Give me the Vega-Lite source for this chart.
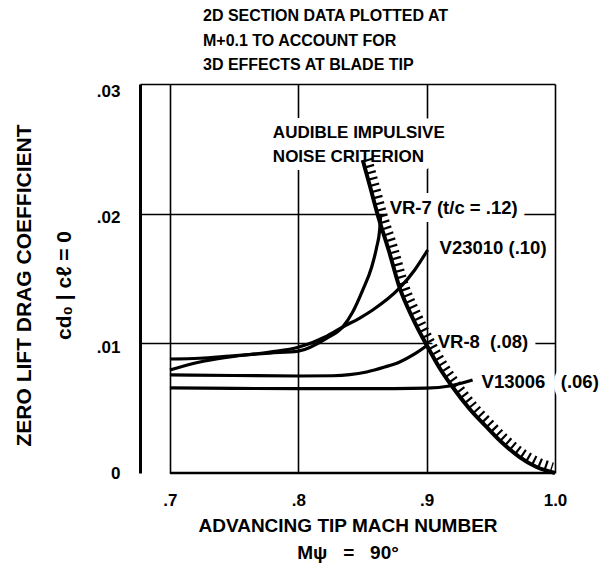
{
  "$schema": "https://vega.github.io/schema/vega-lite/v6.json",
  "width": 415,
  "height": 389,
  "autosize": {"type": "none"},
  "padding": {"left": 140, "top": 84, "right": 55, "bottom": 112},
  "background": "white",
  "config": {
    "view": {"stroke": null},
    "font": "Liberation Sans",
    "axis": {
      "labelFont": "Liberation Sans",
      "labelFontWeight": "bold",
      "labelColor": "black",
      "titleFont": "Liberation Sans",
      "titleFontWeight": "bold",
      "titleColor": "black",
      "ticks": false,
      "gridColor": "black",
      "gridWidth": 1.6,
      "domainColor": "black",
      "zindex": 0
    }
  },
  "title": {
    "text": ["2D SECTION DATA PLOTTED AT", "M+0.1 TO ACCOUNT FOR", "3D EFFECTS AT BLADE TIP"],
    "anchor": "start",
    "frame": "group",
    "font": "Liberation Sans",
    "fontSize": 16,
    "fontWeight": "bold",
    "color": "black",
    "lineHeight": 24.5,
    "baseline": "top",
    "dx": 63,
    "offset": 9
  },
  "datasets": {
    "frame": [
      {"M": 0.7, "cd": 0},
      {"M": 1.0, "cd": 0}
    ],
    "curves": [
      {"series": "VR-7", "M": 0.7, "cd": 0.00879},
      {"series": "VR-7", "M": 0.7233, "cd": 0.00885},
      {"series": "VR-7", "M": 0.7467, "cd": 0.00902},
      {"series": "VR-7", "M": 0.7778, "cd": 0.00925},
      {"series": "VR-7", "M": 0.8, "cd": 0.0094},
      {"series": "VR-7", "M": 0.8222, "cd": 0.0104},
      {"series": "VR-7", "M": 0.8346, "cd": 0.01126},
      {"series": "VR-7", "M": 0.8424, "cd": 0.01242},
      {"series": "VR-7", "M": 0.8502, "cd": 0.01411},
      {"series": "VR-7", "M": 0.8572, "cd": 0.01589},
      {"series": "VR-7", "M": 0.8611, "cd": 0.01743},
      {"series": "VR-7", "M": 0.8634, "cd": 0.01874},
      {"series": "VR-7", "M": 0.8642, "cd": 0.0199},
      {"series": "V23010", "M": 0.7, "cd": 0.00794},
      {"series": "V23010", "M": 0.7233, "cd": 0.00856},
      {"series": "V23010", "M": 0.7467, "cd": 0.00895},
      {"series": "V23010", "M": 0.7778, "cd": 0.00933},
      {"series": "V23010", "M": 0.8, "cd": 0.0097},
      {"series": "V23010", "M": 0.8222, "cd": 0.01055},
      {"series": "V23010", "M": 0.8346, "cd": 0.01126},
      {"series": "V23010", "M": 0.8479, "cd": 0.01195},
      {"series": "V23010", "M": 0.858, "cd": 0.01257},
      {"series": "V23010", "M": 0.879, "cd": 0.01427},
      {"series": "V23010", "M": 0.8907, "cd": 0.01566},
      {"series": "V23010", "M": 0.9008, "cd": 0.0172},
      {"series": "VR-8", "M": 0.7, "cd": 0.00756},
      {"series": "VR-8", "M": 0.75, "cd": 0.00752},
      {"series": "VR-8", "M": 0.8, "cd": 0.00748},
      {"series": "VR-8", "M": 0.8268, "cd": 0.0075},
      {"series": "VR-8", "M": 0.8401, "cd": 0.00758},
      {"series": "VR-8", "M": 0.8533, "cd": 0.00779},
      {"series": "VR-8", "M": 0.8673, "cd": 0.00817},
      {"series": "VR-8", "M": 0.879, "cd": 0.00856},
      {"series": "VR-8", "M": 0.8907, "cd": 0.00918},
      {"series": "VR-8", "M": 0.9008, "cd": 0.00987},
      {"series": "V13006", "M": 0.7, "cd": 0.00656},
      {"series": "V13006", "M": 0.75, "cd": 0.00653},
      {"series": "V13006", "M": 0.8, "cd": 0.0065},
      {"series": "V13006", "M": 0.85, "cd": 0.0065},
      {"series": "V13006", "M": 0.9, "cd": 0.00655},
      {"series": "V13006", "M": 0.9179, "cd": 0.00671},
      {"series": "V13006", "M": 0.9358, "cd": 0.00717}
    ],
    "criterion": [
      {"series": "line", "M": 0.8502, "cd": 0.02414},
      {"series": "line", "M": 0.8556, "cd": 0.02221},
      {"series": "line", "M": 0.8619, "cd": 0.0199},
      {"series": "line", "M": 0.8704, "cd": 0.0172},
      {"series": "line", "M": 0.879, "cd": 0.01427},
      {"series": "line", "M": 0.8891, "cd": 0.01195},
      {"series": "line", "M": 0.9, "cd": 0.00987},
      {"series": "line", "M": 0.9101, "cd": 0.0081},
      {"series": "line", "M": 0.9202, "cd": 0.00663},
      {"series": "line", "M": 0.9335, "cd": 0.00494},
      {"series": "line", "M": 0.9467, "cd": 0.00355},
      {"series": "line", "M": 0.9591, "cd": 0.00231},
      {"series": "line", "M": 0.9724, "cd": 0.00123},
      {"series": "line", "M": 0.9856, "cd": 0.00046},
      {"series": "line", "M": 1.0, "cd": 0.0},
      {"series": "hatch", "M": 0.8541, "cd": 0.02422},
      {"series": "hatch", "M": 0.8595, "cd": 0.02229},
      {"series": "hatch", "M": 0.8658, "cd": 0.01997},
      {"series": "hatch", "M": 0.8743, "cd": 0.01735},
      {"series": "hatch", "M": 0.8829, "cd": 0.01442},
      {"series": "hatch", "M": 0.893, "cd": 0.01211},
      {"series": "hatch", "M": 0.9031, "cd": 0.0101},
      {"series": "hatch", "M": 0.9132, "cd": 0.00833},
      {"series": "hatch", "M": 0.9233, "cd": 0.00686},
      {"series": "hatch", "M": 0.9366, "cd": 0.00517},
      {"series": "hatch", "M": 0.949, "cd": 0.00386},
      {"series": "hatch", "M": 0.9615, "cd": 0.00262},
      {"series": "hatch", "M": 0.9747, "cd": 0.00154},
      {"series": "hatch", "M": 0.9872, "cd": 0.00085},
      {"series": "hatch", "M": 0.9981, "cd": 0.00046}
    ],
    "note": [
      {"label": "AUDIBLE IMPULSIVE\nNOISE CRITERION", "M": 0.7802, "cd": 0.02622}
    ],
    "labels": [
      {"label": "VR-7 (t/c = .12)", "M": 0.8712, "cd": 0.02044},
      {"label": "V23010 (.10)", "M": 0.9101, "cd": 0.01735},
      {"label": "VR-8\u00a0\u00a0(.08)", "M": 0.9086, "cd": 0.0101},
      {"label": "V13006\u00a0\u00a0\u00a0(.06)", "M": 0.9428, "cd": 0.00702}
    ]
  },
  "encoding": {
    "x": {
      "field": "M",
      "type": "quantitative",
      "scale": {"domain": [0.6767, 1.0], "nice": false, "zero": false},
      "axis": {
        "values": [0.7, 0.8, 0.9, 1.0],
        "labelExpr": "datum.value == 1 ? '1.0' : '.' + round(datum.value * 10)",
        "domain": false,
        "grid": true,
        "labelFlush": false,
        "labelFontSize": 17,
        "labelPadding": 19,
        "title": ["ADVANCING TIP MACH NUMBER", "M\u03c8\u00a0\u00a0\u00a0=\u00a0\u00a0\u00a090\u00b0"],
        "titleFontSize": 19,
        "titleLineHeight": 27,
        "titlePadding": 8
      }
    },
    "y": {
      "field": "cd",
      "type": "quantitative",
      "scale": {"domain": [0, 0.03], "nice": false, "zero": false},
      "axis": {
        "values": [0, 0.01, 0.02, 0.03],
        "labelExpr": "datum.value == 0 ? '0' : '.0' + round(datum.value * 100)",
        "domain": true,
        "domainWidth": 3,
        "grid": true,
        "gridOpacity": {"condition": {"test": "datum.value == 0", "value": 0}, "value": 1},
        "labelFlush": false,
        "labelOffset": {"condition": [{"test": "datum.value == 0", "value": 0}, {"test": "datum.value == 0.03", "value": 7}], "value": 4},
        "labelFontSize": 17,
        "labelPadding": 20,
        "title": ["ZERO LIFT DRAG COEFFICIENT", "cd\u2080 | c\u2113 = 0"],
        "titleFontSize": 21,
        "titleLineHeight": 40,
        "titleBaseline": "middle",
        "titleX": -116,
        "titleY": 201
      }
    }
  },
  "layer": [
    {
      "data": {"name": "frame"},
      "mark": {"type": "line", "color": "black", "strokeWidth": 2.5},
      "encoding": {}
    },
    {
      "data": {"name": "note"},
      "mark": {"type": "text", "align": "left", "baseline": "middle", "font": "Liberation Sans", "fontSize": 17, "fontWeight": "bold", "lineBreak": "\n", "lineHeight": 24, "fill": "white", "stroke": "white", "strokeWidth": 16, "strokeJoin": "round"},
      "encoding": {"text": {"field": "label"}}
    },
    {
      "data": {"name": "labels"},
      "mark": {"type": "text", "align": "left", "baseline": "middle", "font": "Liberation Sans", "fontSize": 18.5, "fontWeight": "bold", "fill": "white", "stroke": "white", "strokeWidth": 16, "strokeJoin": "round"},
      "encoding": {"text": {"field": "label"}}
    },
    {
      "data": {"name": "curves"},
      "mark": {"type": "line", "color": "black", "strokeWidth": 3.2, "interpolate": "monotone"},
      "encoding": {"detail": {"field": "series"}}
    },
    {
      "data": {"name": "criterion"},
      "transform": [{"filter": "datum.series == 'line'"}],
      "mark": {"type": "line", "color": "black", "strokeWidth": 4, "interpolate": "monotone"},
      "encoding": {}
    },
    {
      "data": {"name": "criterion"},
      "transform": [{"filter": "datum.series == 'hatch'"}],
      "mark": {"type": "line", "color": "black", "strokeWidth": 9, "strokeDash": [2.2, 4.2], "interpolate": "monotone"},
      "encoding": {}
    },
    {
      "data": {"name": "note"},
      "mark": {"type": "text", "align": "left", "baseline": "middle", "font": "Liberation Sans", "fontSize": 17, "fontWeight": "bold", "lineBreak": "\n", "lineHeight": 24, "color": "black"},
      "encoding": {"text": {"field": "label"}}
    },
    {
      "data": {"name": "labels"},
      "mark": {"type": "text", "align": "left", "baseline": "middle", "font": "Liberation Sans", "fontSize": 18.5, "fontWeight": "bold", "color": "black"},
      "encoding": {"text": {"field": "label"}}
    }
  ]
}
